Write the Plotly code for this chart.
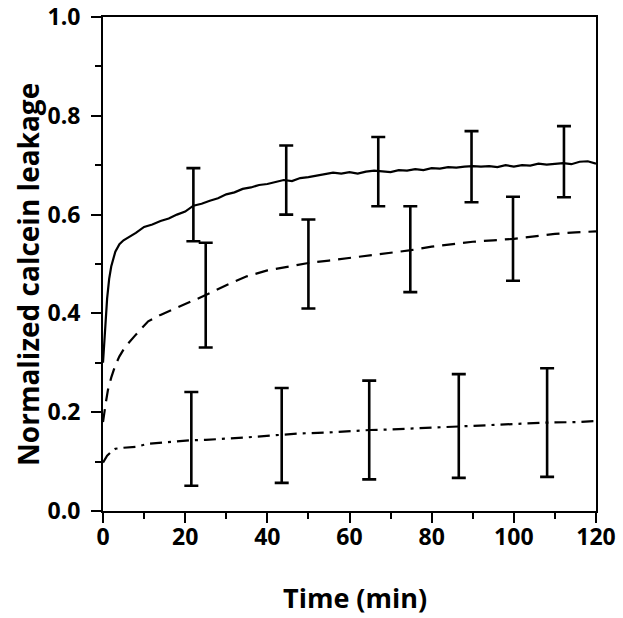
import plotly.graph_objects as go

# ---- data ----
solid_t = [0, 0.5, 1, 1.5, 2, 3, 4, 5, 6, 8, 10, 12, 14, 16, 18, 20, 22, 24, 26, 28, 30,
           32, 34, 36, 38, 40, 42, 44, 46, 48, 50, 52, 54, 56, 58, 60, 62, 64, 66, 68, 70,
           72, 74, 76, 78, 80, 82, 84, 86, 88, 90, 92, 94, 96, 98, 100, 102, 104, 106, 108,
           110, 112, 114, 116, 118, 120]
solid_y = [0.30, 0.37, 0.43, 0.47, 0.495, 0.525, 0.54, 0.548, 0.553, 0.563, 0.575, 0.580,
           0.587, 0.592, 0.600, 0.606, 0.618, 0.622, 0.628, 0.633, 0.641, 0.645, 0.652, 0.655,
           0.660, 0.662, 0.666, 0.670, 0.668, 0.674, 0.676, 0.679, 0.682, 0.685, 0.683, 0.686,
           0.683, 0.687, 0.689, 0.688, 0.686, 0.690, 0.689, 0.692, 0.690, 0.694, 0.693, 0.696,
           0.695, 0.697, 0.698, 0.697, 0.698, 0.696, 0.700, 0.697, 0.700, 0.699, 0.703, 0.701,
           0.703, 0.704, 0.702, 0.707, 0.708, 0.703]

dash_t = [0, 0.3, 0.7, 1.2, 2, 3, 4, 5, 6, 8, 11, 14, 17, 20, 25, 30, 35, 40, 45, 50, 55,
          60, 65, 70, 75, 80, 85, 90, 95, 100, 105, 110, 115, 120]
dash_y = [0.18, 0.20, 0.22, 0.245, 0.27, 0.295, 0.313, 0.327, 0.338, 0.357, 0.384, 0.397,
          0.408, 0.418, 0.437, 0.457, 0.475, 0.487, 0.495, 0.502, 0.507, 0.512, 0.517, 0.522,
          0.528, 0.535, 0.540, 0.545, 0.548, 0.551, 0.556, 0.561, 0.564, 0.566]

dd_t = [0, 0.5, 1, 2, 3, 5, 8, 11, 14, 21, 25, 30, 35, 43, 48, 55, 60, 65, 70, 75, 80, 87,
        90, 95, 100, 108, 115, 120]
dd_y = [0.098, 0.105, 0.112, 0.120, 0.126, 0.128, 0.130, 0.136, 0.138, 0.143, 0.144, 0.146,
        0.149, 0.154, 0.157, 0.159, 0.162, 0.164, 0.165, 0.167, 0.169, 0.172, 0.173, 0.174,
        0.176, 0.179, 0.180, 0.182]

# error bars (position, centre, half-range)
solid_err_t = [22, 44.6, 67, 89.7, 112.2]
solid_err_y = [0.620, 0.670, 0.687, 0.697, 0.707]
solid_err_e = [0.074, 0.070, 0.070, 0.072, 0.072]

dash_err_t = [25, 50, 74.8, 99.8]
dash_err_y = [0.437, 0.500, 0.530, 0.551]
dash_err_e = [0.106, 0.090, 0.087, 0.085]

dd_err_t = [21.5, 43.5, 64.8, 86.6, 108.1]
dd_err_y = [0.146, 0.153, 0.164, 0.172, 0.179]
dd_err_e = [0.095, 0.096, 0.100, 0.105, 0.110]

x_ticks = [0, 20, 40, 60, 80, 100, 120]
x_tick_labels = ["0", "20", "40", "60", "80", "100", "120"]
y_ticks = [0.0, 0.2, 0.4, 0.6, 0.8, 1.0]
y_tick_labels = ["0.0", "0.2", "0.4", "0.6", "0.8", "1.0"]
x_title = "Time (min)"
y_title = "Normalized calcein leakage"

FONT = "Open Sans"

fig = go.Figure()

line_w = 2.2
fig.add_trace(go.Scatter(x=solid_t, y=solid_y, mode="lines",
                         line=dict(color="black", width=line_w), showlegend=False))
fig.add_trace(go.Scatter(x=dash_t, y=dash_y, mode="lines",
                         line=dict(color="black", width=line_w, dash="13px,8px"),
                         showlegend=False))
fig.add_trace(go.Scatter(x=dd_t, y=dd_y, mode="lines",
                         line=dict(color="black", width=line_w, dash="12px,6px,3px,6px"),
                         showlegend=False))

for xs, ys, es in [(solid_err_t, solid_err_y, solid_err_e),
                   (dash_err_t, dash_err_y, dash_err_e),
                   (dd_err_t, dd_err_y, dd_err_e)]:
    fig.add_trace(go.Scatter(
        x=xs, y=ys, mode="markers",
        marker=dict(size=1, color="rgba(0,0,0,0)"),
        error_y=dict(type="data", array=es, visible=True, color="black",
                     thickness=2.6, width=7),
        showlegend=False))

axis_common = dict(
    showline=True, linecolor="black", linewidth=2, mirror=True,
    ticks="outside", tickcolor="black", tickwidth=2, ticklen=10,
    showgrid=False, zeroline=False, automargin=False,
    tickfont=dict(family=FONT, size=23, color="black"),
)

fig.update_xaxes(
    range=[0, 120], tickvals=x_ticks,
    ticktext=["<b>%s</b>" % s for s in x_tick_labels],
    ticklabelstandoff=-6,
    minor=dict(ticks="outside", ticklen=6, tickwidth=2, tickcolor="black", dtick=10,
               tick0=0, showgrid=False),
    **axis_common)
fig.update_yaxes(
    range=[0, 1.0], tickvals=y_ticks,
    ticktext=["<b>%s</b>" % s for s in y_tick_labels],
    ticklabelstandoff=6,
    minor=dict(ticks="outside", ticklen=6, tickwidth=2, tickcolor="black", dtick=0.1,
               tick0=0, showgrid=False),
    **axis_common)

fig.add_annotation(text="<b>%s</b>" % x_title, xref="paper", yref="paper",
                   x=0.511, y=-0.176, xanchor="center", yanchor="middle",
                   showarrow=False, font=dict(family=FONT, size=27, color="black"))
fig.add_annotation(text="<b>%s</b>" % y_title, xref="paper", yref="paper",
                   x=-0.152, y=0.478, xanchor="center", yanchor="middle", textangle=-90,
                   showarrow=False, font=dict(family=FONT, size=28, color="black"))

fig.update_layout(
    width=623, height=618,
    margin=dict(l=103, r=27, t=17, b=107),
    paper_bgcolor="white", plot_bgcolor="white",
)

fig.write_html("out.html", config={"displayModeBar": False},
               post_script="document.body.style.margin='0px';document.body.style.overflow='hidden';")
